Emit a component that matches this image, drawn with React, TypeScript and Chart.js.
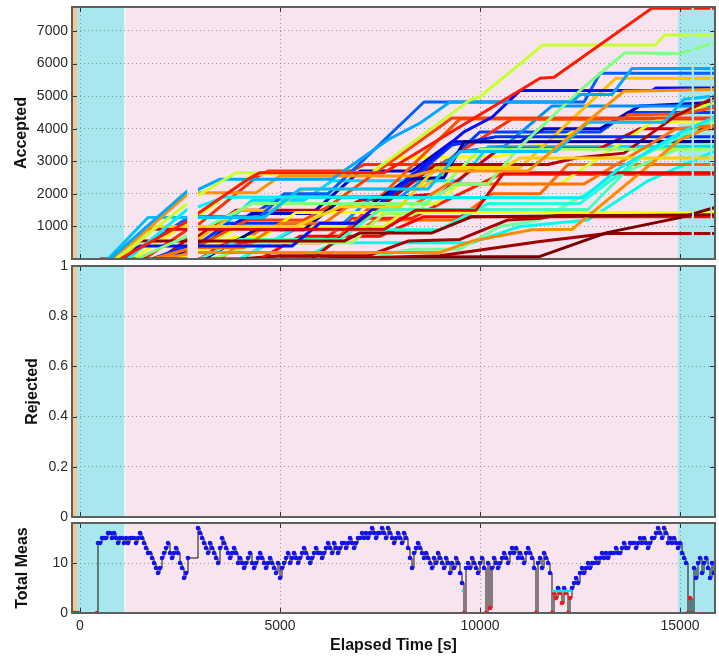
import React, { useEffect, useRef } from "react";
import { Chart, registerables } from "chart.js";
Chart.register(...registerables);

// ---------- axes ----------
const X_MIN = -200;
const X_MAX = 15875;
const X_TICKS = [0, 5000, 10000, 15000];
const ACC_MAX = 7735;
const ACC_TICKS = [1000, 2000, 3000, 4000, 5000, 6000, 7000];
const REJ_TICKS = [0, 0.2, 0.4, 0.6, 0.8, 1];
const MEAS_MAX = 18;
const MEAS_TICKS = [0, 10];

// ---------- background phases ----------
const BAND_START = [-200, -75, 1135, 14950];
const BAND_END = [-75, 1110, 14950, 15850];
const BAND_COLORS = ["#f6c590", "#a9e7ef", "#f8e4ee", "#a9e7ef"];

// ---------- time intervals with no track data ----------
const GAP_START = [2680, 15290, 15760];
const GAP_END = [2950, 15350, 15800];

// ---------- accepted-count tracks: [time, count] breakpoints ----------
const T01 = [[1000, 0], [2680, 1150], [2950, 1400], [4200, 2450], [4500, 2650], [7600, 2650], [11500, 5550], [11850, 5580], [14300, 7700], [15850, 7700]];
const T02 = [[900, 0], [2680, 1700], [2950, 1950], [3900, 2650], [7300, 2650], [9750, 4880], [10000, 4980], [11575, 6570], [14375, 6570], [14625, 6875], [15850, 6875]];
const T03 = [[750, 0], [2680, 2080], [2950, 2130], [3500, 2450], [6300, 2450], [7700, 3660], [8500, 4170], [9250, 4820], [12300, 4820], [12500, 5050], [13300, 5050], [13800, 5850], [15850, 5850]];
const T04 = [[850, 0], [2680, 1980], [2950, 2030], [4400, 2030], [5000, 2550], [8300, 2550], [8800, 2700], [11200, 2700], [13600, 5150], [15850, 5200]];
const T05 = [[1200, 0], [2680, 1520], [2950, 1600], [3600, 1900], [12575, 1880], [13500, 2800], [15000, 3870], [15850, 4350]];
const T06 = [[700, 0], [1700, 1275], [4600, 1275], [5500, 2150], [8700, 2150], [9500, 3300], [11900, 3300], [12700, 4200], [14600, 4200], [15100, 4900], [15850, 5000]];
const T07 = [[1000, 0], [1900, 1000], [5400, 1000], [6500, 1600], [8000, 1600], [8900, 2800], [10600, 2800], [11000, 3100], [15850, 3100]];
const T08 = [[900, 0], [1600, 910], [7600, 910], [8400, 1500], [9900, 1500], [10600, 2650], [15850, 2650]];
const T09 = [[1400, 0], [2680, 700], [2950, 850], [4300, 1700], [8600, 1700], [9400, 2300], [10200, 2300], [11000, 3450], [12575, 5250], [13625, 6330], [15000, 6300], [15850, 6640]];
const T10 = [[800, 0], [1500, 550], [6600, 550], [7000, 800], [8800, 800], [9800, 1300], [15850, 1360]];
const T11 = [[900, 0], [1500, 400], [5300, 400], [6000, 1100], [6900, 1100], [9600, 3900], [10300, 4350], [11000, 5170], [14300, 5170], [14400, 5250], [15850, 5250]];
const T12 = [[500, 0], [8000, 0], [9000, 60], [11500, 80], [13175, 810], [15000, 1270], [15850, 1575]];
const T13 = [[1800, 0], [2680, 300], [2950, 350], [4100, 350], [5000, 1100], [6100, 1100], [6800, 1700], [8400, 1700], [9200, 2300], [12600, 2300], [14900, 4000], [15850, 4100]];
const T14 = [[2000, 0], [2680, 150], [2950, 200], [9000, 200], [9800, 550], [11300, 900], [12300, 910], [15000, 3660], [15850, 4100]];
const T15 = [[3000, 0], [4000, 600], [6500, 600], [7500, 1520], [12700, 1520], [14000, 3140], [15000, 3750], [15850, 4280]];
const T16 = [[3100, 0], [4400, 900], [5600, 900], [6400, 1700], [7300, 1700], [8200, 2450], [9100, 2500], [9600, 3600], [15850, 3610]];
const T17 = [[3300, 0], [4500, 500], [6800, 500], [7600, 1400], [8400, 1400], [10000, 3370], [15850, 3370]];
const T18 = [[2300, 0], [2680, 100], [2950, 200], [3800, 650], [4600, 700], [5400, 1430], [15850, 1430]];
const T19 = [[5000, 0], [5800, 0], [8900, 2900], [11700, 2900], [12400, 3100], [13600, 3250], [14900, 4400], [15850, 4950]];
const T20 = [[2400, 0], [2680, 200], [2950, 400], [4200, 1200], [5600, 1200], [6200, 1600], [9300, 4330], [15850, 4330]];
const T21 = [[3100, 0], [3900, 600], [6400, 600], [7000, 1300], [9500, 4300], [13600, 4300], [13700, 4430], [15000, 4450], [15850, 4640]];
const T22 = [[1100, 0], [2680, 1250], [2950, 1300], [4500, 1300], [5100, 2000], [6200, 2000], [8600, 4820], [12600, 4820], [13000, 5700], [15850, 5700]];
const T23 = [[1800, 0], [2680, 400], [2950, 450], [3700, 1100], [7000, 1100], [9300, 3500], [10400, 3750], [15850, 3750]];
const T24 = [[4000, 0], [5300, 900], [9000, 900], [10200, 1700], [12500, 1700], [14500, 3550], [15850, 3600]];
const T25 = [[6000, 0], [9000, 100], [11500, 535], [13175, 780], [15850, 780]];
const T26 = [[2100, 0], [2680, 450], [2950, 600], [4000, 1500], [4800, 1500], [5600, 2150], [8500, 2150], [9300, 2800], [11000, 2800], [13400, 5550], [15850, 5550]];
const T27 = [[2600, 0], [2680, 50], [2950, 300], [4000, 1000], [7600, 1000], [8400, 1700], [8900, 1700], [9500, 2300], [12000, 2300], [14300, 4200], [15850, 4800]];
const T28 = [[4000, 0], [5500, 1000], [6500, 1000], [7300, 1900], [8000, 1900], [9500, 3300], [10600, 3450], [11800, 4700], [15850, 4700]];
const T29 = [[4500, 0], [5500, 700], [7500, 700], [8600, 1300], [15850, 1300]];
const T30 = [[2000, 0], [2680, 600], [2950, 700], [3900, 1500], [6500, 1500], [7000, 1800], [9000, 2000], [10500, 3400], [13000, 3400], [14000, 4000], [15850, 4000]];
const T31 = [[2500, 0], [2680, 200], [2950, 350], [4300, 1800], [5600, 1800], [6300, 2400], [9500, 2400], [10200, 3450], [15850, 3450]];
const T32 = [[2200, 0], [2680, 250], [2950, 400], [4300, 1400], [5800, 1400], [7000, 2700], [8300, 2700], [9300, 3600], [11000, 3600], [11600, 4000], [13000, 4000], [14000, 4700], [15850, 4800]];
const T33 = [[4000, 0], [5000, 100], [7200, 100], [8200, 550], [9500, 600], [10700, 1200], [11500, 1250], [12000, 1350], [15850, 1380]];
const T34 = [[6000, 0], [7000, 0], [8300, 300], [9500, 300], [10500, 1000], [11500, 1200], [12500, 1900], [13500, 2600], [15000, 3400], [15850, 3500]];
const T35 = [[3000, 0], [3600, 500], [6000, 500], [6800, 1250], [8300, 1250], [9000, 1700], [10500, 2600], [15850, 2600]];
const T36 = [[3500, 0], [4500, 900], [7000, 900], [7400, 1200], [9400, 1200], [10300, 2000], [11500, 2000], [12200, 2900], [15850, 2900]];
const T37 = [[1300, 0], [2680, 1100], [2950, 1300], [4000, 2300], [4300, 2600], [7200, 2600], [7800, 3100], [10500, 3150], [12000, 3700], [12800, 4200], [15850, 4200]];
const T38 = [[1600, 0], [2680, 900], [2950, 1050], [4400, 2500], [4700, 2700], [6800, 2700], [7100, 2900], [9000, 2900], [10800, 4300], [15850, 4300]];
const T39 = [[2500, 0], [2680, 100], [2950, 300], [5000, 1900], [7600, 1900], [8300, 2600], [9200, 3000], [10000, 3900], [13000, 3900], [13700, 4500], [15850, 4500]];
const T40 = [[5500, 0], [6400, 500], [9800, 500], [11000, 1000], [12700, 1200], [14200, 2400], [15850, 3300]];

const TRACKS = [T01, T02, T03, T04, T05, T06, T07, T08, T09, T10, T11, T12, T13, T14, T15, T16, T17, T18, T19, T20,
  T21, T22, T23, T24, T25, T26, T27, T28, T29, T30, T31, T32, T33, T34, T35, T36, T37, T38, T39, T40];
const TRACK_COLORS = [
  "#ff1a00", "#c8ff30", "#00a8ff", "#ff9000", "#00f0ff", "#00c0ff", "#ffd000", "#e00000",
  "#80ff80", "#8c0000", "#0010ff", "#7a0000", "#ff7000", "#ff8c00", "#40ffc0", "#00008f",
  "#a0ff60", "#ffff00", "#b00000", "#ff4000", "#ff5000", "#0060ff", "#0030ff", "#20ffe0",
  "#a00000", "#ffc000", "#e0ff20", "#0090ff", "#ff0000", "#c80000", "#00d8ff", "#0000c8",
  "#a80000", "#70ffa0", "#ff2000", "#ff6a00", "#f8ff10", "#ff3000", "#0040ff", "#00ffe8",
];

// ---------- total measurements: runs sampled every 50 s ----------
const MEAS_STEP = 50;
const MEAS_RUN_STARTS = [-200, 425, 450, 2950];
const MEAS_RUN_A = [0, 0, 0, 0];
const MEAS_RUN_B = [0];
const MEAS_RUN_C = [
  14, 14, 15, 15, 15, 16, 16, 15, 16, 15,
  14, 15, 15, 14, 15, 14, 15, 15, 15, 14,
  15, 16, 15, 14, 13, 12, 12, 11, 10, 9,
  8, 9, 11, 12, 13, 14, 12, 11, 12, 13,
  12, 10, 9, 7, 8, 11,
];
const MEAS_RUN_D = [
  17,
  16, 15, 14, 13, 12, 14, 13, 12, 11, 10,
  13, 15, 14, 13, 12, 11, 12, 13, 12, 10,
  11, 10, 9, 10, 11, 12, 10, 9, 10, 11,
  12, 11, 10, 9, 10, 11, 10, 9, 8, 10,
  7, 9, 10, 11, 12, 10, 11, 12, 11, 10,
  11, 12, 13, 12, 11, 10, 11, 12, 13, 12,
  12, 11, 12, 13, 14, 13, 12, 14, 13, 12,
  13, 14, 14, 13, 14, 15, 14, 13, 14, 15,
  15, 16, 15, 16, 15, 16, 17, 16, 15, 16,
  16, 17, 16, 15, 17, 16, 15, 14, 15, 16,
  15, 14, 16, 15, 13, 11, 9, 12, 13, 14,
  13, 12, 11, 12, 11, 10, 9, 11, 10, 12,
  11, 10, 9, 11, 10, 8, 10, 9, 11, 10,
  8, 6, 0, 9, 10, 9, 11, 10, 9, 8,
  10, 11, 9, 0, 10, 1, 9, 11, 10, 9,
  10, 11, 12, 11, 10, 12, 13, 12, 13, 11,
  12, 11, 10, 12, 13, 12, 11, 9, 0, 10,
  11, 9, 12, 11, 10, 8, 0, 4, 3, 5,
  4, 2, 5, 4, 0, 3, 5, 6, 7, 6,
  8, 9, 8, 9, 10, 9, 10, 10, 11, 10,
  11, 12, 11, 12, 11, 12, 12, 12, 13, 12,
  12, 13, 14, 13, 13, 14, 14, 14, 13, 14,
  15, 14, 15, 14, 13, 14, 15, 15, 16, 17,
  16, 15, 17, 16, 14, 15, 14, 15, 14, 13,
  14, 12, 11, 10, 0, 3, 0, 9, 7, 10,
  11, 8, 10, 11, 9, 7, 10, 8,
];
const MEAS_RUNS = [MEAS_RUN_A, MEAS_RUN_B, MEAS_RUN_C, MEAS_RUN_D];
const MEAS_THRESHOLD = 4.5;
const MEAS_FLAG_T = [9540, 9590, 9700, 11800, 12300];
const MEAS_FLAG_V = [4.4, 4.4, null, 4.4, 4.4];

// ---------- styling ----------
const FONT = "'Liberation Sans', Arial, Helvetica, sans-serif";
const GRID_COLOR = "rgba(120,120,120,0.75)";
const TEXT_COLOR = "#2a2a2a";

const bandsPlugin = {
  id: "bands",
  beforeDraw(chart: any) {
    const { ctx, chartArea, scales } = chart;
    const { top, bottom, left, right } = chartArea;
    const x = scales.x;
    ctx.save();
    ctx.fillStyle = "#ffffff";
    ctx.fillRect(left, top, right - left, bottom - top);
    for (let i = 0; i < BAND_START.length; i++) {
      const x0 = Math.max(left, x.getPixelForValue(BAND_START[i]));
      const x1 = Math.min(right, x.getPixelForValue(BAND_END[i]));
      ctx.fillStyle = BAND_COLORS[i];
      ctx.fillRect(x0, top, x1 - x0, bottom - top);
    }
    ctx.restore();
  },
};

const framePlugin = {
  id: "frame",
  afterDraw(chart: any) {
    const { ctx, chartArea, scales } = chart;
    const { top, bottom, left, right } = chartArea;
    ctx.save();
    ctx.strokeStyle = "#333";
    ctx.lineWidth = 1;
    ctx.beginPath();
    for (const t of scales.x.ticks) {
      const px = Math.round(scales.x.getPixelForValue(t.value)) + 0.5;
      ctx.moveTo(px, bottom);
      ctx.lineTo(px, bottom - 5);
      ctx.moveTo(px, top);
      ctx.lineTo(px, top + 5);
    }
    for (const t of scales.y.ticks) {
      const py = Math.round(scales.y.getPixelForValue(t.value)) + 0.5;
      ctx.moveTo(left, py);
      ctx.lineTo(left + 5, py);
      ctx.moveTo(right, py);
      ctx.lineTo(right - 5, py);
    }
    ctx.stroke();
    ctx.strokeStyle = "#5e5e5e";
    ctx.lineWidth = 2;
    ctx.strokeRect(left, top, right - left, bottom - top);
    ctx.restore();
  },
};

const gapClipPlugin = {
  id: "gapClip",
  beforeDatasetsDraw(chart: any) {
    const { ctx, chartArea, scales } = chart;
    const { top, bottom, left, right } = chartArea;
    const x = scales.x;
    ctx.save();
    ctx.beginPath();
    let cur = left;
    for (let i = 0; i < GAP_START.length; i++) {
      const g0 = x.getPixelForValue(GAP_START[i]);
      const g1 = x.getPixelForValue(GAP_END[i]);
      ctx.rect(cur, top, g0 - cur, bottom - top);
      cur = g1;
    }
    ctx.rect(cur, top, right - cur, bottom - top);
    ctx.clip();
  },
  afterDatasetsDraw(chart: any) {
    chart.ctx.restore();
  },
};

function xScale(showLabels: boolean, height: number) {
  return {
    type: "linear",
    min: X_MIN,
    max: X_MAX,
    afterBuildTicks: (s: any) => {
      s.ticks = X_TICKS.map((v) => ({ value: v }));
    },
    afterFit: (s: any) => {
      s.height = height;
      s.paddingLeft = 0;
      s.paddingRight = 0;
    },
    grid: { color: GRID_COLOR, lineWidth: 1, drawTicks: false },
    border: { display: false, dash: [1, 3] },
    ticks: {
      display: showLabels,
      color: TEXT_COLOR,
      font: { family: FONT, size: 14 },
      padding: 5,
      maxRotation: 0,
      callback: (v: any) => String(v),
    },
    title: {
      display: showLabels,
      text: "Elapsed Time [s]",
      color: "#111",
      font: { family: FONT, size: 16, weight: "bold" },
      padding: { top: 0, bottom: 7 },
    },
  };
}

function yScale(min: number, max: number, ticks: number[], title: string, titlePad: number) {
  return {
    type: "linear",
    min,
    max,
    afterBuildTicks: (s: any) => {
      s.ticks = ticks.map((v) => ({ value: v }));
    },
    afterFit: (s: any) => {
      s.width = 72;
      s.paddingTop = 0;
      s.paddingBottom = 0;
    },
    grid: { color: GRID_COLOR, lineWidth: 1, drawTicks: false },
    border: { display: false, dash: [1, 3] },
    ticks: {
      color: TEXT_COLOR,
      font: { family: FONT, size: 14 },
      padding: 4,
      callback: (v: any) => String(v),
    },
    title: {
      display: true,
      text: title,
      color: "#111",
      font: { family: FONT, size: 16, weight: "bold" },
      padding: { top: titlePad, bottom: 0 },
    },
  };
}

function baseOptions(padTop: number) {
  return {
    animation: false,
    responsive: false,
    devicePixelRatio: 1,
    events: [],
    layout: { padding: { top: padTop, right: 4, left: 0, bottom: 0 } },
    plugins: { legend: { display: false }, tooltip: { enabled: false } },
  };
}

function buildMeasPoints() {
  const pts: { x: number; y: number }[] = [];
  MEAS_RUNS.forEach((run, r) => {
    run.forEach((v, i) => pts.push({ x: MEAS_RUN_STARTS[r] + i * MEAS_STEP, y: v }));
  });
  return pts;
}

const CANVAS_W = 719;
const PANELS = [
  { top: 0, height: 262 },
  { top: 250, height: 280 },
  { top: 512, height: 150 },
];

export default function App() {
  const r1 = useRef<HTMLCanvasElement>(null);
  const r2 = useRef<HTMLCanvasElement>(null);
  const r3 = useRef<HTMLCanvasElement>(null);

  useEffect(() => {
    const charts: Chart[] = [];

    charts.push(
      new Chart(r1.current as HTMLCanvasElement, {
        type: "line",
        data: {
          datasets: TRACKS.map((tr, i) => ({
            data: tr.map(([x, y]) => ({ x, y })),
            borderColor: TRACK_COLORS[i],
            borderWidth: 3,
            pointRadius: 0,
            tension: 0,
            fill: false,
            borderJoinStyle: "round",
          })),
        },
        options: {
          ...baseOptions(7),
          scales: {
            x: xScale(false, 3),
            y: yScale(0, ACC_MAX, ACC_TICKS, "Accepted", 12),
          },
        } as any,
        plugins: [bandsPlugin, gapClipPlugin, framePlugin],
      })
    );

    charts.push(
      new Chart(r2.current as HTMLCanvasElement, {
        type: "line",
        data: { datasets: [{ data: [], borderColor: "#000", pointRadius: 0 }] },
        options: {
          ...baseOptions(16),
          scales: {
            x: xScale(false, 13),
            y: yScale(0, 1, REJ_TICKS, "Rejected", 23),
          },
        } as any,
        plugins: [bandsPlugin, framePlugin],
      })
    );

    const meas = buildMeasPoints();
    const flag = MEAS_FLAG_T.map((t, i) => ({ x: t, y: MEAS_FLAG_V[i] }));
    charts.push(
      new Chart(r3.current as HTMLCanvasElement, {
        type: "line",
        data: {
          datasets: [
            {
              data: flag,
              borderColor: "#00e5ee",
              borderWidth: 2.5,
              pointRadius: 0,
              spanGaps: false,
            },
            {
              data: meas,
              stepped: true,
              borderColor: "#111",
              borderWidth: 1,
              pointRadius: 2.3,
              pointBorderWidth: 0,
              pointBackgroundColor: (c: any) =>
                c.raw && c.raw.y < MEAS_THRESHOLD ? "#ff1010" : "#1212f0",
            },
          ],
        },
        options: {
          ...baseOptions(11),
          scales: {
            x: xScale(true, 49),
            y: yScale(0, MEAS_MAX, MEAS_TICKS, "Total Meas", 13),
          },
        } as any,
        plugins: [bandsPlugin, framePlugin],
      })
    );

    return () => charts.forEach((c) => c.destroy());
  }, []);

  const refs = [r1, r2, r3];
  return (
    <div style={{ position: "absolute", left: 0, top: 0, width: CANVAS_W, height: 662, background: "#fff" }}>
      {PANELS.map((p, i) => (
        <canvas
          key={i}
          ref={refs[i]}
          width={CANVAS_W}
          height={p.height}
          style={{ position: "absolute", left: 0, top: p.top, width: CANVAS_W, height: p.height }}
        />
      ))}
    </div>
  );
}
